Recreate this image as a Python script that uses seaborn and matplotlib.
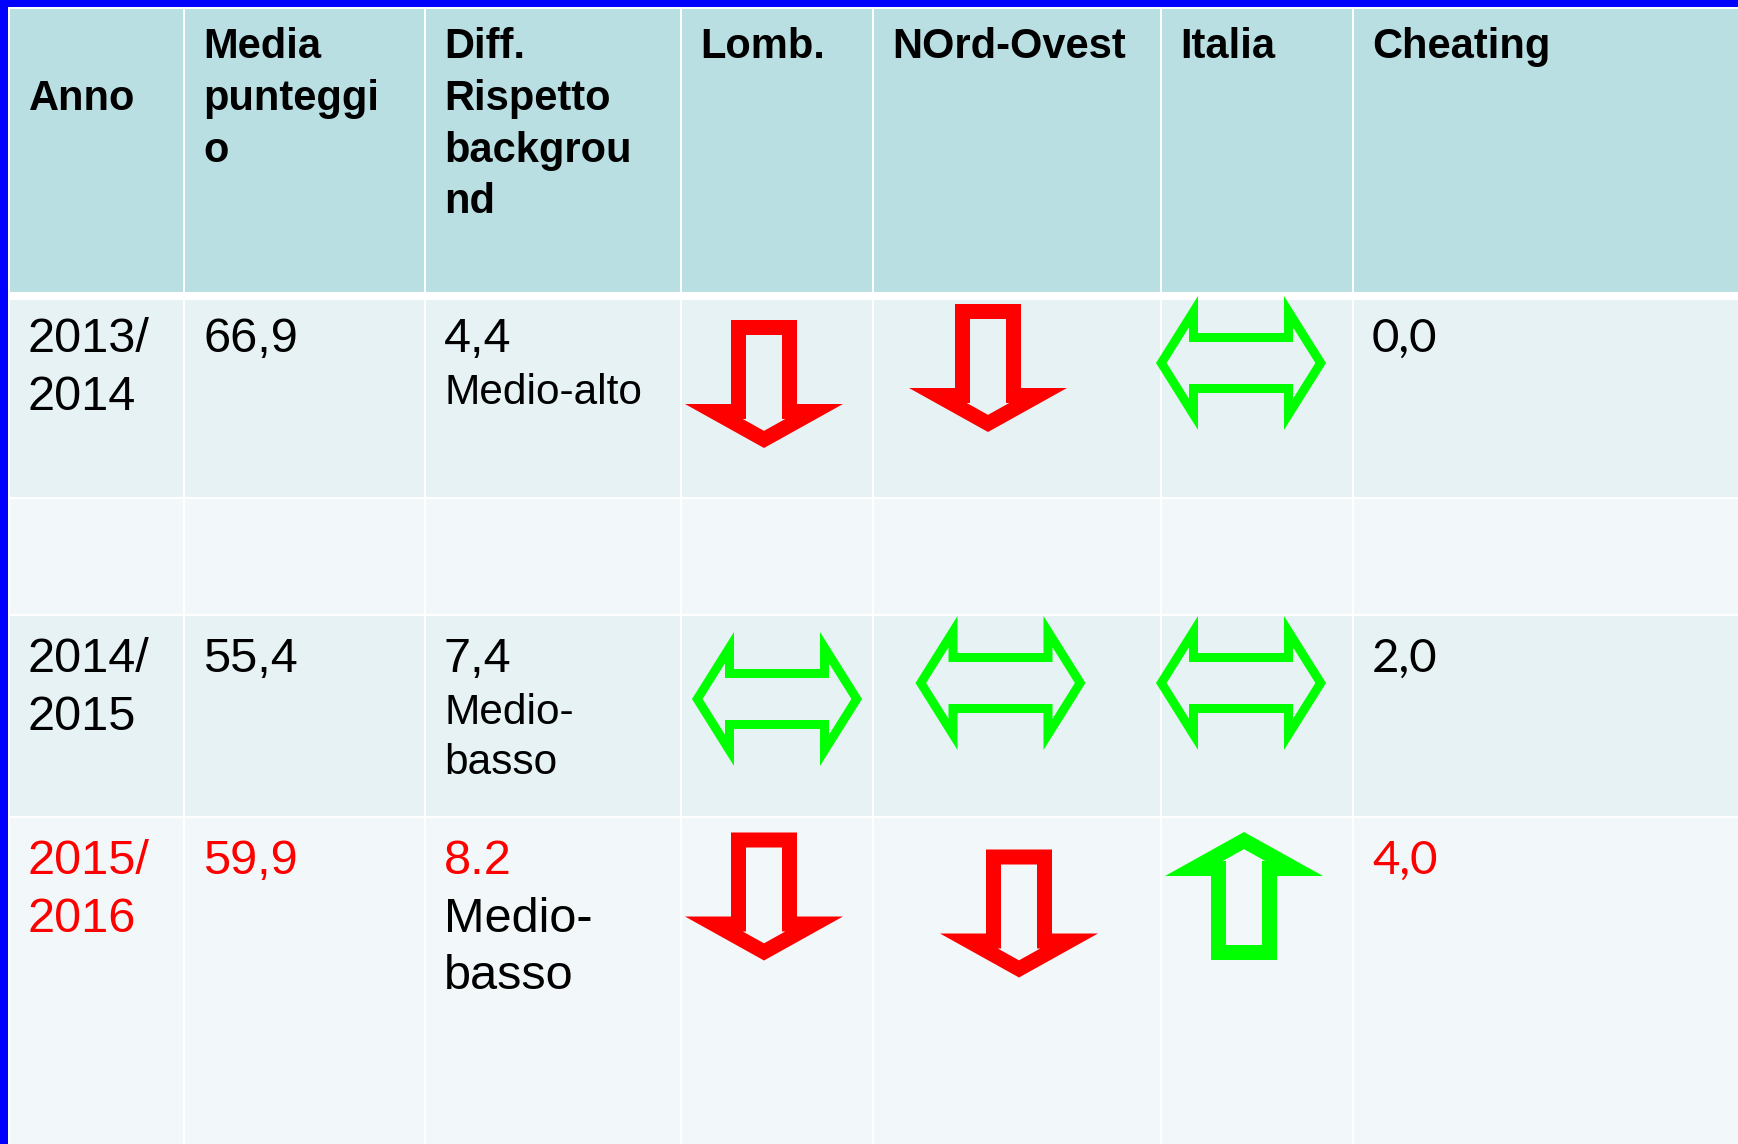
import numpy as np
import matplotlib
matplotlib.use("Agg")
import matplotlib.pyplot as plt
from matplotlib.patches import Rectangle, PathPatch
from matplotlib.path import Path
import seaborn as sns

# ---------------- data ----------------
headers = [["Anno"], ["Media", "punteggi", "o"], ["Diff.", "Rispetto", "backgrou", "nd"],
           ["Lomb."], ["NOrd-Ovest"], ["Italia"], ["Cheating"]]
header_first_line = [1, 0, 0, 0, 0, 0, 0]   # "Anno" sits on the second line

years = [["2013/", "2014"], [], ["2014/", "2015"], ["2015/", "2016"]]
media = ["66,9", "", "55,4", "59,9"]
diff_value = ["4,4", "", "7,4", "8.2"]
diff_label = [["Medio-alto"], [], ["Medio-", "basso"], ["Medio-", "basso"]]
diff_label_big = [False, False, False, True]
lomb = ["down", None, "both", "down"]
nord = ["down", None, "both", "down"]
italia = ["both", None, "both", "up"]
cheating = ["0,0", "", "2,0", "4,0"]
highlight = [False, False, False, True]

# ---------------- layout / style ----------------
W_PX, H_PX = 1738, 1144
col_edges = [10, 184, 425, 681, 873, 1161, 1353, 1738]
header_y = (9, 292)
row_y = [(300, 496.5), (498.5, 614), (616, 815.5), (817.5, 1144)]
header_bg = "#B9DFE3"
row_bg = ["#E6F2F4", "#F2F8FA", "#E6F2F4", "#F2F8FA"]
BLUE = "#0000FF"
RED = "#FF0000"
GREEN = "#00FF00"
PAD = 19
# arrow anchor offsets (dx from cell centre, dy from row top)
arrow_off = {
    (0, 3): (-13, 84), (0, 4): (-29, 68), (0, 5): (-16, 63),
    (2, 3): (0, 83), (2, 4): (-16.5, 67), (2, 5): (-16, 67),
    (3, 3): (-13, 79), (3, 4): (2, 96), (3, 5): (-13, 78.5),
}

sns.set_theme(style="white")
plt.rcParams['font.family'] = ['Liberation Sans', 'DejaVu Sans']

fig = plt.figure(figsize=(W_PX / 100, H_PX / 100), dpi=100)
ax = fig.add_axes([0, 0, 1, 1])
ax.set_xlim(0, W_PX)
ax.set_ylim(H_PX, 0)
ax.axis("off")
fig.patch.set_facecolor("white")

# blue frame (top and left)
ax.add_patch(Rectangle((0, 0), W_PX, 6.5, color=BLUE, lw=0, zorder=1))
ax.add_patch(Rectangle((0, 0), 7.5, H_PX, color=BLUE, lw=0, zorder=1))

GAP = 1.3


def cell(x0, x1, y0, y1, color, first, last):
    a = x0 + (0 if first else GAP)
    b = x1 - (0 if last else GAP)
    ax.add_patch(Rectangle((a, y0), b - a, y1 - y0, color=color, lw=0, zorder=2))


ncol = len(col_edges) - 1
for c in range(ncol):
    cell(col_edges[c], col_edges[c + 1], header_y[0], header_y[1], header_bg, c == 0, c == ncol - 1)
    for r, (y0, y1) in enumerate(row_y):
        cell(col_edges[c], col_edges[c + 1], y0, y1, row_bg[r], c == 0, c == ncol - 1)

# ---------------- header text ----------------
H_BASE = [58, 110, 162, 213]
for c, lines in enumerate(headers):
    for i, t in enumerate(lines):
        ax.text(col_edges[c] + PAD, H_BASE[header_first_line[c] + i], t, fontsize=30,
                fontweight="bold", va="baseline", ha="left", color="black", zorder=5)

# ---------------- body text ----------------
BIG = 35
SMALL = 30.5
row_base = [352, None, 672, 874]
LINE = 57.5
for r in range(4):
    if row_base[r] is None:
        continue
    b = row_base[r]
    col = RED if highlight[r] else "black"
    for i, t in enumerate(years[r]):
        ax.text(col_edges[0] + PAD - 2, b + i * LINE, t, fontsize=BIG, va="baseline", color=col, zorder=5)
    ax.text(col_edges[1] + PAD, b, media[r], fontsize=BIG, va="baseline", color=col, zorder=5)
    ax.text(col_edges[2] + PAD, b, diff_value[r], fontsize=BIG, va="baseline", color=col, zorder=5)
    if diff_label_big[r]:
        for i, t in enumerate(diff_label[r]):
            ax.text(col_edges[2] + PAD, b + (i + 1) * LINE, t, fontsize=BIG, va="baseline",
                    color="black", zorder=5)
    else:
        for i, t in enumerate(diff_label[r]):
            ax.text(col_edges[2] + PAD, b + 52 + i * 50, t, fontsize=SMALL, va="baseline",
                    color="black", zorder=5)
    ax.text(col_edges[6] + PAD, b, cheating[r], fontsize=34, va="baseline", color=col,
            family=["Lato", "DejaVu Sans"], zorder=5)


# ---------------- arrows ----------------
def inset(poly, d):
    P = np.asarray(poly, float)
    n = len(P)
    area = 0.5 * np.sum(P[:, 0] * np.roll(P[:, 1], -1) - np.roll(P[:, 0], -1) * P[:, 1])
    s = 1.0 if area > 0 else -1.0
    lines = []
    for i in range(n):
        p0, p1 = P[i], P[(i + 1) % n]
        v = p1 - p0
        v = v / np.hypot(*v)
        nrm = s * np.array([-v[1], v[0]])
        lines.append((p0 + d * nrm, v))
    out = []
    for i in range(n):
        (a, u), (b, w) = lines[i - 1], lines[i]
        M = np.array([[u[0], -w[0]], [u[1], -w[1]]])
        t = np.linalg.solve(M, b - a)
        out.append(a + t[0] * u)
    return np.array(out)


def outline_patch(poly, d, color):
    outer = np.asarray(poly, float)
    inner = inset(outer, d)[::-1]
    verts = np.vstack([outer, outer[:1], inner, inner[:1]])
    codes = ([Path.MOVETO] + [Path.LINETO] * (len(outer) - 1) + [Path.CLOSEPOLY] +
             [Path.MOVETO] + [Path.LINETO] * (len(inner) - 1) + [Path.CLOSEPOLY])
    ax.add_patch(PathPatch(Path(verts, codes), facecolor=color, edgecolor="none", lw=0, zorder=6))


def vertical_arrow(cx, cy, up, color):
    sw, hw, h, hh = 33, 79, 128, 44
    top = -h / 2
    pts = [(-sw, top), (sw, top), (sw, top + h - hh), (hw, top + h - hh), (0, top + h),
           (-hw, top + h - hh), (-sw, top + h - hh)]
    pts = np.array(pts)
    if up:
        pts[:, 1] = -pts[:, 1]
    pts[:, 0] += cx
    pts[:, 1] += cy
    outline_patch(pts, 15, color)


def double_arrow(cx, cy, color):
    W, H, L, S = 85, 67, 42, 30
    pts = np.array([(-W, 0), (-W + L, -H), (-W + L, -S), (W - L, -S), (W - L, -H), (W, 0),
                    (W - L, H), (W - L, S), (-W + L, S), (-W + L, H)], float)
    pts[:, 0] += cx
    pts[:, 1] += cy
    outline_patch(pts, 9, color)


for c, series in zip([3, 4, 5], [lomb, nord, italia]):
    ccx = (col_edges[c] + col_edges[c + 1]) / 2
    for r, kind in enumerate(series):
        if kind is None:
            continue
        dx, dy = arrow_off[(r, c)]
        x, y = ccx + dx, row_y[r][0] + dy
        if kind == "down":
            vertical_arrow(x, y, False, RED)
        elif kind == "up":
            vertical_arrow(x, y, True, GREEN)
        else:
            double_arrow(x, y, GREEN)

fig.savefig("out.png", dpi=100, facecolor="white")
